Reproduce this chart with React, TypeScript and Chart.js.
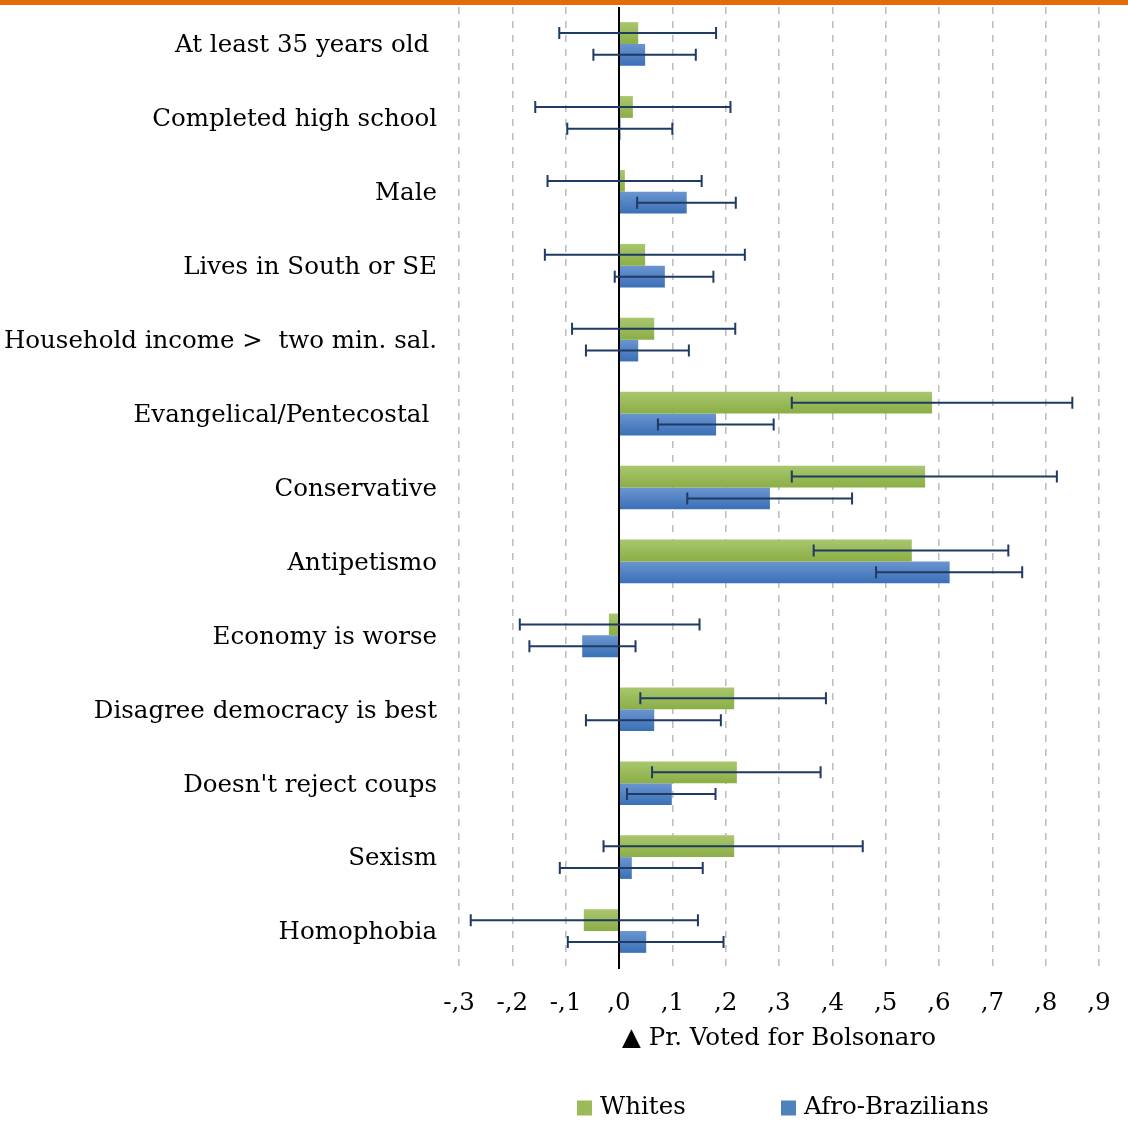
import React, { useEffect, useRef } from "react";
import { Chart, registerables } from "chart.js";

Chart.register(...registerables);

const categories = [
  "At least 35 years old ",
  "Completed high school",
  "Male",
  "Lives in South or SE",
  "Household income >  two min. sal.",
  "Evangelical/Pentecostal ",
  "Conservative",
  "Antipetismo",
  "Economy is worse",
  "Disagree democracy is best",
  "Doesn't reject coups",
  "Sexism",
  "Homophobia",
];

const seriesNames = ["Whites", "Afro-Brazilians"];

const whites = [0.036, 0.026, 0.011, 0.049, 0.066, 0.587, 0.574, 0.549, -0.019, 0.216, 0.221, 0.216, -0.066];
const whitesLow = [-0.112, -0.157, -0.134, -0.139, -0.088, 0.324, 0.324, 0.365, -0.186, 0.04, 0.062, -0.029, -0.278];
const whitesHigh = [0.182, 0.209, 0.155, 0.236, 0.218, 0.85, 0.821, 0.73, 0.151, 0.388, 0.378, 0.457, 0.148];

const afro = [0.049, 0.003, 0.127, 0.086, 0.036, 0.182, 0.283, 0.62, -0.069, 0.066, 0.099, 0.024, 0.051];
const afroLow = [-0.048, -0.097, 0.034, -0.008, -0.062, 0.073, 0.128, 0.482, -0.168, -0.062, 0.015, -0.111, -0.096];
const afroHigh = [0.144, 0.1, 0.219, 0.177, 0.131, 0.29, 0.437, 0.756, 0.031, 0.191, 0.181, 0.157, 0.196];

const xTickLabels = ["-,3", "-,2", "-,1", ",0", ",1", ",2", ",3", ",4", ",5", ",6", ",7", ",8", ",9"];
const xMin = -0.3;
const xMax = 0.9;
const xTitle = "\u25B2 Pr. Voted for Bolsonaro";

const FONT = "'DejaVu Serif', serif";
const FS = 24.5;
const CAT_PCT = 0.59;

const greenTop = "#A9C66E";
const greenBottom = "#8BAE45";
const blueTop = "#6B95D0";
const blueBottom = "#3A70B6";
const errColor = "#1F3A63";

function gradientFor(ctx: any, which: number) {
  const chart = ctx.chart;
  const y = chart.scales && chart.scales.y;
  const solid = which === 0 ? "#9BBB59" : "#4F81BD";
  if (!y || ctx.type !== "data" || !isFinite(y.top)) return solid;
  const n = categories.length;
  const catH = (y.bottom - y.top) / n;
  const barH = (catH * CAT_PCT) / 2;
  const c = y.getPixelForValue(ctx.dataIndex);
  const t = which === 0 ? c - barH : c;
  const b = t + barH;
  const g = chart.ctx.createLinearGradient(0, t, 0, b);
  g.addColorStop(0, which === 0 ? greenTop : blueTop);
  g.addColorStop(1, which === 0 ? greenBottom : blueBottom);
  return g;
}

const lows = [whitesLow, afroLow];
const highs = [whitesHigh, afroHigh];

const overlayPlugin = {
  id: "overlay",
  afterDatasetsDraw(chart: any) {
    const { ctx, chartArea, scales } = chart;
    const xs = scales.x;
    const x0 = xs.getPixelForValue(0);
    ctx.save();
    ctx.strokeStyle = "#000000";
    ctx.lineWidth = 2;
    ctx.beginPath();
    ctx.moveTo(x0, chartArea.top);
    ctx.lineTo(x0, chartArea.bottom + 1);
    ctx.stroke();
    ctx.strokeStyle = errColor;
    ctx.lineWidth = 2;
    for (let d = 0; d < 2; d++) {
      const meta = chart.getDatasetMeta(d);
      meta.data.forEach((el: any, i: number) => {
        const yc = el.y;
        const xl = xs.getPixelForValue(lows[d][i]);
        const xh = xs.getPixelForValue(highs[d][i]);
        ctx.beginPath();
        ctx.moveTo(xl, yc);
        ctx.lineTo(xh, yc);
        ctx.moveTo(xl, yc - 6);
        ctx.lineTo(xl, yc + 6);
        ctx.moveTo(xh, yc - 6);
        ctx.lineTo(xh, yc + 6);
        ctx.stroke();
      });
    }
    ctx.restore();
  },
  afterDraw(chart: any) {
    const { ctx, chartArea } = chart;
    const cx = (chartArea.left + chartArea.right) / 2;
    const ly = 1108;
    const items = [
      { label: seriesNames[0], color: "#9BBB59", x: cx - 202 },
      { label: seriesNames[1], color: "#4F81BD", x: cx + 2 },
    ];
    ctx.save();
    ctx.font = `${FS}px ${FONT}`;
    ctx.textBaseline = "middle";
    ctx.textAlign = "left";
    items.forEach((it) => {
      ctx.fillStyle = it.color;
      ctx.fillRect(it.x, ly - 7.5, 15, 15);
      ctx.fillStyle = "#000000";
      ctx.fillText(it.label, it.x + 23, ly);
    });
    ctx.restore();
  },
};

export default function App() {
  const canvasRef = useRef<HTMLCanvasElement | null>(null);

  useEffect(() => {
    if (!canvasRef.current) return;
    const chart = new Chart(canvasRef.current, {
      type: "bar",
      data: {
        labels: categories,
        datasets: [
          {
            label: seriesNames[0],
            data: whites,
            backgroundColor: (ctx: any) => gradientFor(ctx, 0),
            categoryPercentage: CAT_PCT,
            barPercentage: 1,
            borderWidth: 0,
          },
          {
            label: seriesNames[1],
            data: afro,
            backgroundColor: (ctx: any) => gradientFor(ctx, 1),
            categoryPercentage: CAT_PCT,
            barPercentage: 1,
            borderWidth: 0,
          },
        ],
      },
      options: {
        indexAxis: "y",
        responsive: false,
        animation: false,
        layout: { padding: { top: 7, right: 29, left: 0, bottom: 0 } },
        plugins: {
          legend: { display: false },
          tooltip: { enabled: false },
        },
        scales: {
          x: {
            type: "linear",
            min: xMin,
            max: xMax,
            afterBuildTicks: (scale: any) => {
              scale.ticks = xTickLabels.map((_, i) => ({ value: Math.round((xMin + i * 0.1) * 10) / 10 }));
            },
            afterFit: (scale: any) => {
              scale.height = 154;
              scale.paddingLeft = 0;
              scale.paddingRight = 0;
            },
            ticks: {
              callback: (_v: any, i: number) => xTickLabels[i],
              font: { family: FONT, size: FS },
              color: "#000000",
              padding: 21,
              maxRotation: 0,
              autoSkip: false,
            },
            grid: {
              color: "#BFBFBF",
              lineWidth: 1.6,
              drawTicks: false,
            },
            border: { display: false, dash: [7, 7] },
            title: {
              display: true,
              text: xTitle,
              font: { family: FONT, size: FS },
              color: "#000000",
              padding: { top: 0, bottom: 69 },
            },
          },
          y: {
            type: "category",
            afterFit: (scale: any) => {
              scale.width = 459;
              scale.paddingTop = 0;
              scale.paddingBottom = 0;
            },
            ticks: {
              font: { family: FONT, size: FS },
              color: "#000000",
              padding: 22,
              labelOffset: 2,
              autoSkip: false,
            },
            grid: { display: false, drawTicks: false },
            border: { display: false },
          },
        },
      } as any,
      plugins: [overlayPlugin],
    });
    return () => chart.destroy();
  }, []);

  return (
    <div style={{ position: "fixed", left: 0, top: 0, width: 1128, height: 1122, background: "#ffffff" }}>
      <div style={{ position: "absolute", left: 0, top: 0, width: 1128, height: 5, background: "#E36C0A" }} />
      <canvas ref={canvasRef} width={1128} height={1122} style={{ display: "block", width: 1128, height: 1122 }} />
    </div>
  );
}
